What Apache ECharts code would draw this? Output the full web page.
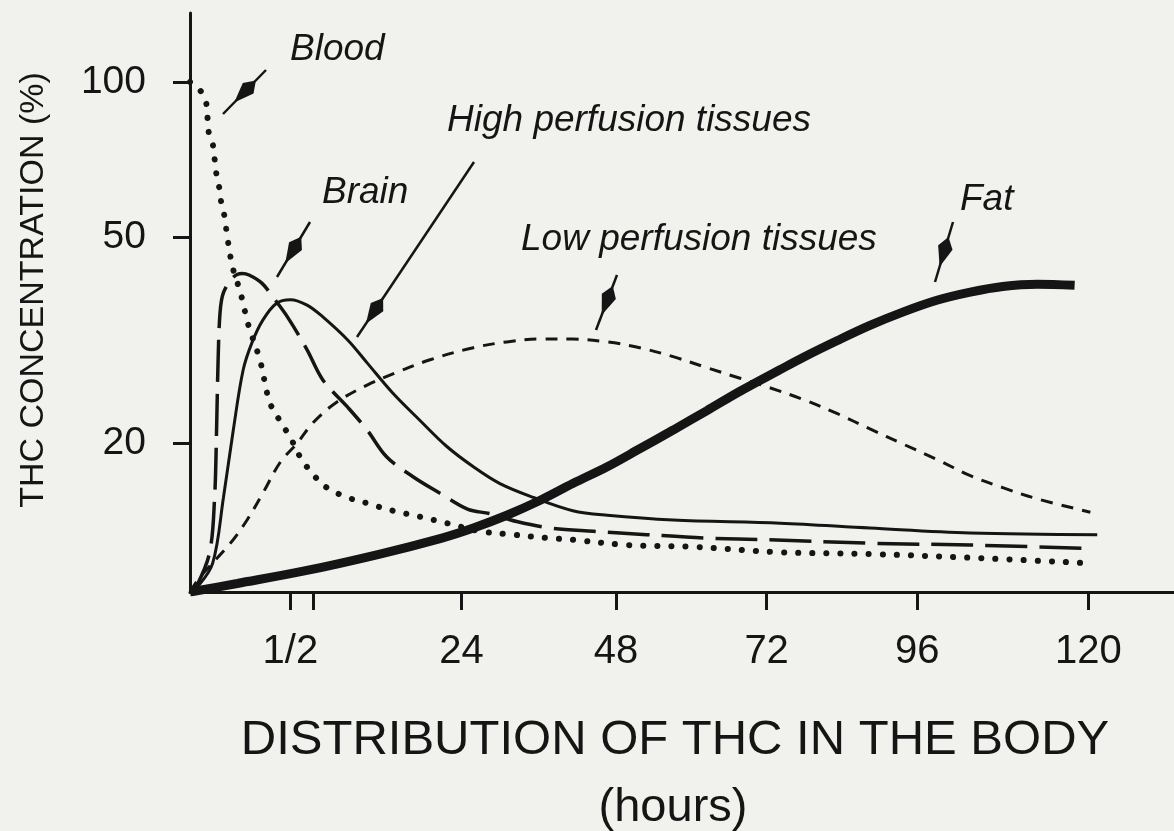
<!DOCTYPE html>
<html>
<head>
<meta charset="utf-8">
<title>Distribution of THC in the body</title>
<script src="https://cdn.jsdelivr.net/npm/echarts@6.0.0/dist/echarts.min.js"></script>
<style>
  html, body { margin: 0; padding: 0; background: #f1f1ee; }
  #chart { width: 1174px; height: 831px; }
</style>
</head>
<body>
<div id="chart"></div>
<script>
// x = position along the hand-drawn time axis (0 = origin, 100 = right edge).
// The drawn time scale is not linear in hours, so the hour labels sit at their drawn positions.
const xTickPos = [10.2, 12.5, 27.6, 43.3, 58.6, 73.9, 91.3];
const xTickLabels = ['1/2', '', '24', '48', '72', '96', '120'];
const yTicks = [20, 50, 100];

// y = THC concentration (%), log scale
const blood = [[0, 100], [0.9, 97], [1.6, 92], [1.9, 80], [2.3, 76], [2.5, 71], [2.7, 66], [3.0, 62], [3.2, 58],
  [3.5, 55], [3.8, 50], [4.3, 44], [4.8, 41], [5.3, 38], [5.9, 34], [7.1, 29], [8.1, 24], [9.2, 22], [10.2, 20.5],
  [11.2, 18.8], [12.5, 17.4], [13.9, 16.4], [16, 15.7], [18, 15.3], [20.6, 14.8], [23.4, 14.4], [26.1, 14],
  [29.5, 13.5], [32.8, 13.3], [36.3, 13.1], [38.9, 13], [44.4, 12.7], [51.1, 12.6], [59.7, 12.3], [69.1, 12.2],
  [79.3, 12], [91.8, 11.7]];
const brain = [[0, 10.3], [0.7, 10.6], [2.0, 12.3], [2.5, 15.7], [2.7, 21.2], [2.85, 28.6], [3.05, 35.7], [3.4, 39.1],
  [4.4, 41.9], [5.3, 42.6], [6.0, 42.3], [7.3, 40.8], [8.4, 38.4], [9.9, 35.1], [11.9, 30.3], [13.5, 26.5],
  [16, 23.5], [18, 21.2], [20, 18.8], [22.7, 17.2], [25.4, 16], [28.2, 14.9], [30.5, 14.6], [33.2, 14.1],
  [36.6, 13.7], [41, 13.5], [46.4, 13.3], [52.5, 13.1], [58.9, 13.0], [69.1, 12.8], [79.3, 12.7], [91.5, 12.5]];
const highPerfusion = [[0, 10.3], [0.7, 10.5], [2.3, 11.7], [3.4, 15.7], [4.4, 21.2], [5.4, 27.7], [6.3, 31.3],
  [7.4, 34.6], [8.8, 37.3], [10.2, 37.9], [11.9, 37], [13.5, 35.1], [16, 31.7], [18, 28.6], [20.6, 25.0],
  [23.4, 22.1], [26.1, 19.7], [28.8, 18], [31.5, 16.7], [34.9, 15.7], [38.9, 14.8], [42.4, 14.5], [49.1, 14.2],
  [60, 14.0], [69.1, 13.7], [79.3, 13.4], [92.2, 13.3]];
const lowPerfusion = [[0, 10.3], [1.0, 11.0], [4.1, 12.8], [5.8, 14.2], [7.4, 16.0], [9.2, 18.4], [10.9, 20.0],
  [12.5, 21.9], [14.9, 24.0], [18, 25.9], [21, 27.4], [24.4, 29], [28.8, 30.6], [32.2, 31.4], [35.6, 31.8],
  [38.9, 31.8], [42.4, 31.4], [45.7, 30.6], [49.1, 29.4], [52.5, 28], [55.9, 26.7], [58.9, 25.6], [62.3, 24.3],
  [65.8, 22.8], [69.1, 21.3], [72.5, 19.9], [75.9, 18.6], [79.3, 17.3], [82.6, 16.4], [86.1, 15.6], [91.5, 14.7]];
const fat = [[0, 10.3], [4.8, 10.7], [11.5, 11.3], [19.3, 12.2], [25.6, 13.1], [28.8, 13.7], [32.2, 14.5],
  [35.6, 15.5], [38.9, 16.7], [42.4, 18.0], [45.7, 19.5], [49.1, 21.2], [52.5, 23.1], [55.9, 25.2], [59.9, 27.7],
  [62.3, 29.3], [65.8, 31.6], [69.1, 33.8], [72.5, 35.9], [75.9, 37.8], [79.3, 39.2], [82.6, 40.2], [86.1, 40.6],
  [89.9, 40.4]];

const INK = '#151515';
const FONT = '"Liberation Sans", Arial, sans-serif';

// hand-lettered callouts: text + arrow (tail -> tip), in pixels
const notes = [
  { text: 'Blood', x: 290, y: 50, from: [266, 70], to: [223, 114] },
  { text: 'High perfusion tissues', x: 447, y: 121, from: [474, 162], to: [357, 337] },
  { text: 'Brain', x: 322, y: 193, from: [310, 222], to: [277, 277] },
  { text: 'Low perfusion tissues', x: 521, y: 240, from: [617, 275], to: [596, 330] },
  { text: 'Fat', x: 960, y: 200, from: [953, 222], to: [935, 282] }
];

const arrowHead = (from, to) => {
  const dx = to[0] - from[0], dy = to[1] - from[1];
  const len = Math.hypot(dx, dy);
  const ux = dx / len, uy = dy / len, nx = -uy, ny = ux;
  const px = to[0] - ux * 16, py = to[1] - uy * 16;
  return [
    [px, py],
    [px - ux * 20 + nx * 7.5, py - uy * 20 + ny * 7.5],
    [px - ux * 31, py - uy * 31],
    [px - ux * 20 - nx * 7.5, py - uy * 20 - ny * 7.5]
  ];
};

const graphics = [];
notes.forEach(n => {
  graphics.push({
    type: 'text', x: n.x, y: n.y,
    style: { text: n.text, font: 'italic 37px ' + FONT, fill: INK,
      textVerticalAlign: 'middle', verticalAlign: 'middle' }
  });
  graphics.push({
    type: 'line',
    shape: { x1: n.from[0], y1: n.from[1], x2: n.to[0], y2: n.to[1] },
    style: { stroke: INK, lineWidth: 2.5 }
  });
  graphics.push({
    type: 'polygon', shape: { points: arrowHead(n.from, n.to) },
    style: { fill: INK }
  });
});
graphics.push({
  type: 'text', x: 34, y: 290, rotation: Math.PI / 2,
  style: { text: 'THC CONCENTRATION (%)', font: '34px ' + FONT, fill: INK,
    textAlign: 'center', align: 'center', textVerticalAlign: 'middle', verticalAlign: 'middle' }
});
graphics.push({
  type: 'text', x: 675, y: 740,
  style: { text: 'DISTRIBUTION OF THC IN THE BODY', font: '49px ' + FONT, fill: INK,
    textAlign: 'center', align: 'center', textVerticalAlign: 'middle', verticalAlign: 'middle' }
});
graphics.push({
  type: 'text', x: 673, y: 808,
  style: { text: '(hours)', font: '47px ' + FONT, fill: INK,
    textAlign: 'center', align: 'center', textVerticalAlign: 'middle', verticalAlign: 'middle' }
});

const labelFor = v => {
  let best = 0;
  xTickPos.forEach((p, i) => { if (Math.abs(p - v) < Math.abs(xTickPos[best] - v)) best = i; });
  return xTickLabels[best];
};

const line = (name, data, lineStyle, z) => ({
  type: 'line', name, data, z,
  showSymbol: false, symbol: 'none',
  smooth: 0.35,
  lineStyle: Object.assign({ color: INK }, lineStyle)
});

const chart = echarts.init(document.getElementById('chart'));
chart.setOption({
  animation: false,
  backgroundColor: '#f1f1ee',
  grid: { left: 190, right: 0, top: 13, bottom: 239 },
  xAxis: {
    type: 'value', min: 0, max: 100,
    axisLine: { show: true, onZero: false, lineStyle: { color: INK, width: 3 } },
    axisTick: { show: true, customValues: xTickPos, length: 18, lineStyle: { color: INK, width: 3 } },
    axisLabel: {
      customValues: xTickPos.filter((p, i) => xTickLabels[i] !== ''),
      formatter: labelFor,
      margin: 40, fontSize: 40, color: INK, fontFamily: FONT
    },
    splitLine: { show: false }
  },
  yAxis: {
    type: 'log', logBase: 10, min: 10.3, max: 136,
    axisLine: { show: true, onZero: false, lineStyle: { color: INK, width: 3 } },
    axisTick: { show: true, customValues: yTicks, length: 17, lineStyle: { color: INK, width: 3 } },
    axisLabel: { customValues: yTicks, margin: 44, fontSize: 39, color: INK, fontFamily: FONT },
    splitLine: { show: false }
  },
  series: [
    line('Blood', blood, { width: 6, type: [0.1, 14], cap: 'round' }, 2),
    line('Brain', brain, { width: 3.5, type: [42, 12] }, 2),
    line('High perfusion tissues', highPerfusion, { width: 3 }, 2),
    line('Low perfusion tissues', lowPerfusion, { width: 3, type: [12, 9] }, 2),
    line('Fat', fat, { width: 9 }, 3)
  ],
  graphic: graphics
});
</script>
</body>
</html>
